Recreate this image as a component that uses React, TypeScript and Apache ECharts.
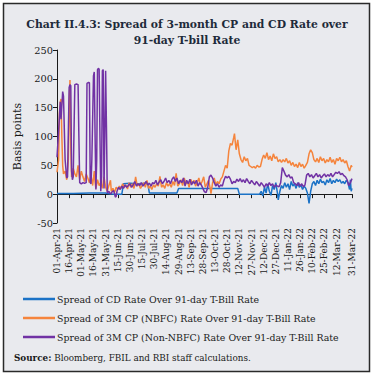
import React, { useEffect, useRef } from "react";
import * as echarts from "echarts";

const TITLE = "Chart II.4.3: Spread of 3-month CP and CD Rate over\n91-day T-bill Rate";
const Y_NAME = "Basis points";
const SERIES_NAMES = [
  "Spread of CD Rate Over 91-day T-Bill Rate",
  "Spread of 3M CP (NBFC) Rate Over 91-day T-Bill Rate",
  "Spread of 3M CP (Non-NBFC) Rate Over 91-day T-Bill Rate",
];
const COLORS = ["#1b72c6", "#f5843c", "#7132a4"];
const START_DATE = "2021-04-01";
const N_DAYS = 365;
const MONTHS = ["Jan", "Feb", "Mar", "Apr", "May", "Jun", "Jul", "Aug", "Sep", "Oct", "Nov", "Dec"];

// [day index from 01-Apr-21, basis points]
const cdSpread: [number, number][] = [
  [0, 1], [20, 1], [40, 2], [60, 2], [62, 1], [70, 0], [80, 0], [82, 18], [90, 19], [100, 18], [112, 19],
  [114, 2], [130, 2], [148, 2], [150, 10], [180, 10], [200, 10], [223, 10], [225, 0], [240, 0], [250, 0],
  [252, 5], [254, -3], [256, 12], [258, 2], [260, 18], [262, 5], [264, -2], [266, 15], [268, 8], [270, 20],
  [272, 2], [273, -10], [275, 5], [277, 15], [279, 10], [281, 20], [283, 12], [285, 18], [287, 8], [289, 22],
  [291, 14], [293, 18], [295, 10], [297, 20], [299, 12], [301, 16], [303, 8], [305, 14], [307, 10], [309, 2],
  [311, -16], [313, 5], [315, 18], [317, 22], [319, 15], [321, 24], [323, 18], [325, 26], [327, 20], [329, 22],
  [331, 16], [333, 25], [335, 20], [337, 27], [339, 18], [341, 24], [343, 20], [345, 26], [347, 22], [349, 25],
  [351, 19], [353, 22], [355, 18], [357, 24], [359, 20], [361, 8], [362, 25], [363, 5], [364, 10],
];

const cpNbfcSpread: [number, number][] = [
  [0, 38], [2, 60], [3, 140], [4, 160], [5, 165], [6, 100], [7, 50], [8, 35], [10, 40], [12, 25], [14, 60],
  [15, 150], [16, 198], [17, 80], [18, 30], [20, 45], [22, 35], [24, 30], [26, 50], [28, 25], [30, 40], [32, 30],
  [34, 22], [36, 35], [38, 28], [40, 20], [42, 32], [44, 15], [46, 40], [47, 20], [48, 10], [50, 25], [52, 15],
  [54, 20], [56, 10], [58, 30], [60, 12], [62, 5], [64, 15], [66, 24], [67, 5], [69, 10], [71, 3], [73, 12],
  [75, 8], [77, 14], [79, 10], [81, 18], [83, 12], [85, 16], [87, 9], [89, 20], [91, 12], [93, 18], [95, 10],
  [97, 30], [99, 14], [101, 18], [103, 10], [105, 15], [107, 20], [109, 12], [111, 24], [113, 10], [115, 14],
  [117, 8], [119, 16], [121, 12], [123, 18], [125, 14], [127, 31], [129, 12], [131, 16], [133, 10], [135, 20],
  [137, 14], [139, 18], [141, 12], [143, 22], [145, 15], [147, 36], [149, 14], [151, 18], [153, 25], [155, 15],
  [157, 28], [159, 18], [161, 22], [163, 12], [165, 26], [167, 18], [169, 24], [171, 14], [173, 20], [175, 28],
  [177, 16], [179, 22], [181, 30], [183, 12], [185, 18], [187, 24], [189, 10], [190, 1], [192, 20], [194, 28],
  [196, 16], [198, 22], [200, 18], [202, 26], [204, 30], [206, 40], [208, 50], [210, 45], [212, 75], [214, 88],
  [216, 85], [218, 98], [219, 105], [220, 90], [221, 77], [223, 94], [225, 70], [227, 60], [229, 55], [231, 65],
  [233, 58], [235, 62], [237, 50], [239, 48], [241, 46], [243, 48], [245, 45], [247, 50], [249, 47], [251, 48],
  [253, 60], [255, 68], [257, 62], [259, 72], [261, 60], [263, 66], [265, 58], [267, 70], [269, 62], [271, 65],
  [273, 56], [275, 60], [277, 55], [279, 60], [281, 56], [283, 62], [285, 54], [287, 58], [289, 50], [291, 55],
  [293, 48], [295, 52], [297, 46], [299, 55], [301, 48], [303, 52], [305, 45], [307, 50], [309, 55], [311, 70],
  [313, 77], [315, 72], [317, 60], [319, 56], [321, 62], [323, 55], [325, 65], [327, 58], [329, 62], [331, 54],
  [333, 60], [335, 56], [337, 64], [339, 55], [341, 60], [343, 52], [345, 62], [347, 58], [349, 64], [351, 56],
  [353, 60], [355, 54], [357, 58], [359, 48], [361, 40], [363, 50], [364, 47],
];

const cpNonNbfcSpread: [number, number][] = [
  [0, 64], [2, 110], [4, 160], [5, 130], [7, 178], [8, 170], [10, 60], [12, 28], [13, 30], [15, 185], [16, 190],
  [17, 188], [18, 40], [19, 25], [20, 30], [22, 190], [24, 191], [26, 190], [27, 100], [28, 20], [30, 18],
  [32, 20], [34, 19], [36, 20], [37, 192], [39, 194], [40, 193], [41, 20], [42, 18], [43, 60], [45, 205],
  [46, 212], [47, 100], [48, 8], [49, 60], [50, 216], [51, 218], [52, 217], [53, 100], [54, 5], [55, 30],
  [56, 214], [57, 216], [58, 10], [59, 100], [60, 214], [61, 120], [62, 2], [64, 5], [66, 0], [68, 4], [70, 6],
  [72, -5], [73, -4], [74, 5], [76, 12], [78, 8], [80, 14], [82, 10], [84, 16], [86, 12], [88, 15], [90, 18],
  [92, 12], [94, 16], [96, 22], [98, 14], [100, 18], [102, 15], [104, 20], [106, 14], [108, 18], [110, 22],
  [112, 16], [114, 19], [116, 14], [118, 20], [120, 18], [122, 24], [124, 16], [126, 21], [128, 25], [130, 18],
  [132, 22], [134, 28], [136, 20], [138, 24], [140, 18], [142, 26], [144, 30], [146, 22], [148, 28], [150, 18],
  [152, 24], [154, 20], [156, 28], [158, 14], [160, 24], [162, 18], [164, 26], [166, 16], [168, 22], [170, 18],
  [172, 24], [174, 14], [176, 20], [178, 16], [180, 10], [182, 4], [184, 3], [186, 12], [188, 30], [190, 33],
  [192, 28], [194, 20], [196, 14], [198, 18], [200, 12], [202, 16], [204, 14], [206, 24], [208, 31], [210, 28],
  [212, 31], [214, 26], [216, 18], [218, 22], [220, 20], [222, 26], [224, 22], [226, 27], [228, 21], [230, 25],
  [232, 20], [234, 27], [236, 22], [238, 18], [240, 24], [242, 20], [244, 16], [246, 22], [248, 18], [250, 14],
  [252, 20], [254, 16], [256, 12], [258, 18], [260, 14], [262, 20], [264, 15], [266, 18], [268, 12], [270, 16],
  [272, 14], [274, 13], [276, 20], [278, 46], [280, 40], [282, 33], [284, 30], [286, 34], [288, 28], [290, 30],
  [292, 20], [294, 18], [296, 15], [298, 20], [300, 14], [302, 18], [304, 13], [306, 16], [308, 33], [310, 36],
  [312, 30], [314, 34], [316, 28], [318, 32], [320, 36], [322, 30], [324, 34], [326, 28], [328, 32], [330, 35],
  [332, 30], [334, 34], [336, 31], [338, 36], [340, 30], [342, 34], [344, 38], [346, 36], [348, 39], [350, 34],
  [352, 36], [354, 32], [356, 30], [358, 25], [360, 15], [362, 20], [364, 27],
];

const Y_MIN = -50;
const Y_MAX = 250;
const Y_STEP = 50;

function buildCategories(): string[] {
  const out: string[] = [];
  const d0 = new Date(START_DATE + "T00:00:00Z");
  for (let i = 0; i < N_DAYS; i++) {
    const d = new Date(d0.getTime() + i * 86400000);
    const dd = String(d.getUTCDate()).padStart(2, "0");
    const yy = String(d.getUTCFullYear()).slice(2);
    out.push(`${dd}-${MONTHS[d.getUTCMonth()]}-${yy}`);
  }
  return out;
}

const showTick = (i: number) => (i % 15 === 0 && i <= 345) || i === N_DAYS - 1;

export default function App() {
  const ref = useRef<HTMLDivElement>(null);
  useEffect(() => {
    document.body.style.margin = "0";
    if (!ref.current) return;
    const chart = echarts.init(ref.current, null, { renderer: "svg" });
    const categories = buildCategories();
    const font = "DejaVu Serif";
    const axisColor = "#1a1a1a";
    chart.setOption({
      animation: false,
      backgroundColor: "#ffffff",
      title: {
        text: TITLE,
        left: "center",
        top: 12,
        textStyle: { fontFamily: font, fontSize: 10.8, fontWeight: "bold", color: "#1e2a3a", lineHeight: 15.5 },
      },
      graphic: [
        {
          type: "rect",
          z: -10,
          silent: true,
          shape: { x: 3.5, y: 3.5, width: 366, height: 368 },
          style: { fill: "#e9eaee", stroke: "#2a2a2a", lineWidth: 1.5 },
        },
        {
          type: "text",
          left: 14,
          top: 353,
          style: {
            text: "{b|Source:} Bloomberg, FBIL and RBI staff calculations.",
            rich: {
              b: { fontFamily: font, fontSize: 8.8, fontWeight: "bold", fill: "#1a1a1a" },
            },
            fontFamily: font,
            fontSize: 8.8,
            fill: "#1a1a1a",
          },
        },
      ],
      legend: {
        orient: "vertical",
        left: 18,
        top: 288,
        itemWidth: 32,
        itemHeight: 2.5,
        itemGap: 7,
        icon: "rect",
        data: SERIES_NAMES,
        textStyle: { fontFamily: font, fontSize: 9.4, color: "#1a1a1a", lineHeight: 12, padding: [0, 0, 0, -3] },
      },
      grid: { left: 57, right: 22, top: 50, bottom: 152, containLabel: false },
      xAxis: [
        {
          type: "category",
          data: categories,
          boundaryGap: false,
          position: "bottom",
          axisLine: { show: false, onZero: false },
          axisTick: { show: false },
          axisLabel: {
            interval: (i: number) => showTick(i),
            rotate: 90,
            margin: 5,
            fontFamily: font,
            fontSize: 9,
            color: "#1a1a1a",
          },
          splitLine: { show: false },
        },
        {
          type: "category",
          data: categories,
          boundaryGap: false,
          position: "bottom",
          axisLine: { show: true, onZero: true, lineStyle: { color: axisColor, width: 1 } },
          axisTick: { show: true, interval: (i: number) => showTick(i), length: 4, lineStyle: { color: axisColor } },
          axisLabel: { show: false },
          splitLine: { show: false },
        },
      ],
      yAxis: {
        type: "value",
        min: Y_MIN,
        max: Y_MAX,
        interval: Y_STEP,
        name: Y_NAME,
        nameLocation: "middle",
        nameGap: 32,
        nameTextStyle: { fontFamily: font, fontSize: 11, color: "#1a1a1a" },
        axisLine: { show: true, onZero: false, lineStyle: { color: axisColor, width: 1 } },
        axisTick: { show: true, length: 4, lineStyle: { color: axisColor } },
        axisLabel: { fontFamily: font, fontSize: 9.8, color: "#1a1a1a", margin: 4 },
        splitLine: { show: false },
      },
      series: [
        { name: SERIES_NAMES[0], data: cdSpread, color: COLORS[0], z: 2 },
        { name: SERIES_NAMES[1], data: cpNbfcSpread, color: COLORS[1], z: 3 },
        { name: SERIES_NAMES[2], data: cpNonNbfcSpread, color: COLORS[2], z: 4 },
      ].map((s) => ({
        type: "line",
        name: s.name,
        data: s.data,
        xAxisIndex: 0,
        z: s.z,
        showSymbol: false,
        symbol: "none",
        itemStyle: { color: s.color },
        lineStyle: { color: s.color, width: 1.5 },
      })),
    });
    return () => chart.dispose();
  }, []);
  return <div ref={ref} style={{ width: 374, height: 375 }} />;
}
